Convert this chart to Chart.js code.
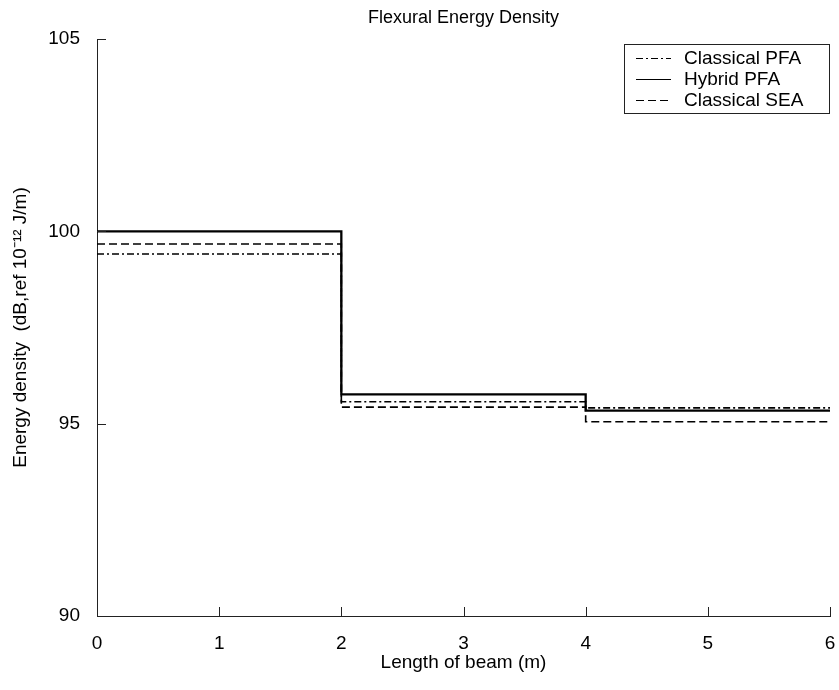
<!DOCTYPE html>
<html>
<head>
<meta charset="utf-8">
<script src="https://cdn.jsdelivr.net/npm/chart.js@4"></script>
<style>
  html, body { margin: 0; padding: 0; background: #fff; }
  #wrap { width: 839px; height: 690px; }
</style>
</head>
<body>
<div id="wrap"><canvas id="energyChart" width="839" height="690"></canvas></div>
<script>
// ===== data =====
const positions = [0, 2, 4, 6];
const classicalPFA = [99.41, 95.57, 95.41, 95.41];
const hybridPFA = [100.0, 95.76, 95.34, 95.34];
const classicalSEA = [99.67, 95.43, 95.05, 95.05];
const xTicks = [0, 1, 2, 3, 4, 5, 6];
const yTicks = [90, 95, 100, 105];

const FONT = '"Liberation Sans", Arial, sans-serif';

function toPoints(values) {
  return positions.map((x, i) => ({ x: x, y: values[i] }));
}

// title centred over the plot area
const titlePlugin = {
  id: 'plotTitle',
  afterDraw(chart) {
    const { ctx, chartArea } = chart;
    ctx.save();
    ctx.fillStyle = '#000';
    ctx.font = '18px ' + FONT;
    ctx.textAlign = 'center';
    ctx.textBaseline = 'middle';
    ctx.fillText('Flexural Energy Density', (chartArea.left + chartArea.right) / 2, 18);
    ctx.restore();
  }
};

// inward tick marks like the original
const innerTicks = {
  id: 'innerTicks',
  afterDraw(chart) {
    const { ctx, chartArea, scales } = chart;
    ctx.save();
    ctx.strokeStyle = '#222';
    ctx.lineWidth = 1;
    ctx.beginPath();
    xTicks.forEach(v => {
      const px = Math.round(scales.x.getPixelForValue(v)) + 0.5;
      ctx.moveTo(px, chartArea.bottom);
      ctx.lineTo(px, chartArea.bottom - 9);
    });
    yTicks.forEach(v => {
      const py = Math.round(scales.y.getPixelForValue(v)) + 0.5;
      ctx.moveTo(chartArea.left, py);
      ctx.lineTo(chartArea.left + 9, py);
    });
    ctx.stroke();
    ctx.restore();
  }
};

// boxed legend in the top right corner
const boxLegend = {
  id: 'boxLegend',
  afterDraw(chart) {
    const { ctx, chartArea } = chart;
    const right = chartArea.right;
    const left = 624, top = 44, bottom = 114;
    ctx.save();
    ctx.fillStyle = '#fff';
    ctx.fillRect(left, top, right - left, bottom - top);
    ctx.strokeStyle = '#222';
    ctx.lineWidth = 1;
    ctx.strokeRect(left + 0.5, top + 0.5, right - left - 1, bottom - top - 1);
    ctx.font = '19px ' + FONT;
    ctx.textBaseline = 'middle';
    ctx.textAlign = 'left';
    chart.data.datasets.forEach((ds, i) => {
      const y = 58 + i * 21 + 0.5;
      ctx.beginPath();
      ctx.setLineDash(ds.borderDash || []);
      ctx.strokeStyle = '#000';
      ctx.lineWidth = 1.2;
      ctx.moveTo(636, y);
      ctx.lineTo(671, y);
      ctx.stroke();
      ctx.setLineDash([]);
      ctx.fillStyle = '#000';
      ctx.fillText(ds.label, 684, y);
    });
    ctx.restore();
  }
};

const energyChart = new Chart(document.getElementById('energyChart'), {
  type: 'line',
  data: {
    datasets: [
      {
        label: 'Classical PFA',
        data: toPoints(classicalPFA),
        borderColor: '#000',
        borderWidth: 1.6,
        borderDash: [7, 3, 2, 3],
        stepped: 'before',
        pointRadius: 0,
        fill: false
      },
      {
        label: 'Hybrid PFA',
        data: toPoints(hybridPFA),
        borderColor: '#000',
        borderWidth: 2.3,
        stepped: 'before',
        pointRadius: 0,
        fill: false
      },
      {
        label: 'Classical SEA',
        data: toPoints(classicalSEA),
        borderColor: '#000',
        borderWidth: 1.6,
        borderDash: [8, 4],
        stepped: 'before',
        pointRadius: 0,
        fill: false
      }
    ]
  },
  options: {
    responsive: false,
    animation: false,
    layout: { autoPadding: false, padding: { left: 0, right: 9, top: 39, bottom: 0 } },
    plugins: {
      legend: { display: false },
      title: { display: false },
      tooltip: { enabled: false }
    },
    scales: {
      x: {
        type: 'linear',
        min: 0,
        max: 6,
        afterFit: scale => {
          scale.height = 74;
          scale.paddingLeft = 0;
          scale.paddingRight = 0;
        },
        afterBuildTicks: scale => { scale.ticks = xTicks.map(v => ({ value: v })); },
        grid: { drawOnChartArea: false, drawTicks: false },
        border: { display: true, color: '#222', width: 1 },
        ticks: { color: '#000', padding: 16, font: { family: FONT, size: 19 } },
        title: {
          display: true,
          text: 'Length of beam (m)',
          color: '#000',
          font: { family: FONT, size: 19 },
          padding: { top: 0, bottom: 16 }
        }
      },
      y: {
        min: 90,
        max: 105,
        afterFit: scale => {
          scale.width = 97;
          scale.paddingTop = 0;
          scale.paddingBottom = 0;
        },
        afterBuildTicks: scale => { scale.ticks = yTicks.map(v => ({ value: v })); },
        grid: { drawOnChartArea: false, drawTicks: false },
        border: { display: true, color: '#222', width: 1 },
        ticks: { color: '#000', padding: 17, font: { family: FONT, size: 19 } },
        title: {
          display: true,
          text: 'Energy density  (dB,ref 10\u207B\u00B9\u00B2 J/m)',
          color: '#000',
          font: { family: FONT, size: 19 },
          padding: { top: 9, bottom: 0 }
        }
      }
    }
  },
  plugins: [titlePlugin, innerTicks, boxLegend]
});
</script>
</body>
</html>
